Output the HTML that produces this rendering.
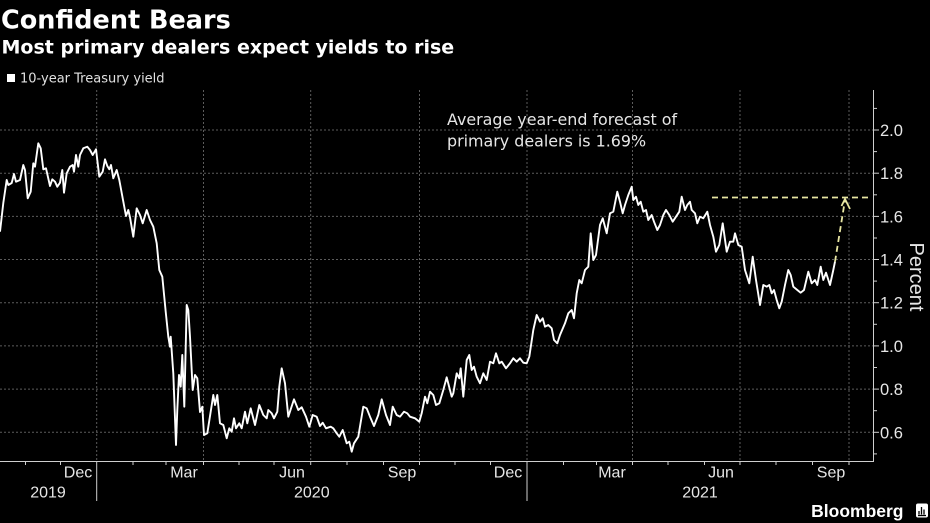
<!DOCTYPE html>
<html><head><meta charset="utf-8"><style>
html,body{margin:0;padding:0;background:#000;}
svg{display:block;}
</style></head><body>
<svg width="930" height="523" viewBox="0 0 930 523" xmlns="http://www.w3.org/2000/svg">
<rect width="930" height="523" fill="#000"/>
<text x="1" y="28.5" font-family="DejaVu Sans, sans-serif" font-weight="bold" font-size="25.5" fill="#fff">Confident Bears</text>
<text x="1.5" y="53.5" font-family="DejaVu Sans, sans-serif" font-weight="bold" font-size="19" fill="#fff">Most primary dealers expect yields to rise</text>
<rect x="7" y="74" width="8" height="8" fill="#fff"/>
<text x="20" y="82.7" font-family="DejaVu Sans, sans-serif" font-size="13" fill="#e0e0e0">10-year Treasury yield</text>
<g stroke="#5c5c5c" stroke-width="1" stroke-dasharray="2,2" fill="none">
<line x1="0" y1="130" x2="873" y2="130"/>
<line x1="0" y1="173.2" x2="873" y2="173.2"/>
<line x1="0" y1="216.4" x2="873" y2="216.4"/>
<line x1="0" y1="259.5" x2="873" y2="259.5"/>
<line x1="0" y1="302.7" x2="873" y2="302.7"/>
<line x1="0" y1="345.9" x2="873" y2="345.9"/>
<line x1="0" y1="389.1" x2="873" y2="389.1"/>
<line x1="0" y1="432.3" x2="873" y2="432.3"/>
<line x1="96.7" y1="90" x2="96.7" y2="461"/>
<line x1="203.5" y1="90" x2="203.5" y2="461"/>
<line x1="310.7" y1="90" x2="310.7" y2="461"/>
<line x1="419.5" y1="90" x2="419.5" y2="461"/>
<line x1="527" y1="90" x2="527" y2="461"/>
<line x1="632.5" y1="90" x2="632.5" y2="461"/>
<line x1="740" y1="90" x2="740" y2="461"/>
<line x1="849" y1="90" x2="849" y2="461"/>
</g>
<g stroke="#cfcfcf" stroke-width="1" fill="none">
<line x1="873.5" y1="90" x2="873.5" y2="461.5"/>
<line x1="0" y1="461.5" x2="874" y2="461.5"/>
<line x1="873.5" y1="130" x2="879" y2="130"/>
<line x1="873.5" y1="173.2" x2="879" y2="173.2"/>
<line x1="873.5" y1="216.4" x2="879" y2="216.4"/>
<line x1="873.5" y1="259.5" x2="879" y2="259.5"/>
<line x1="873.5" y1="302.7" x2="879" y2="302.7"/>
<line x1="873.5" y1="345.9" x2="879" y2="345.9"/>
<line x1="873.5" y1="389.1" x2="879" y2="389.1"/>
<line x1="873.5" y1="432.3" x2="879" y2="432.3"/>
<line x1="873.5" y1="108.4" x2="877" y2="108.4"/>
<line x1="873.5" y1="151.6" x2="877" y2="151.6"/>
<line x1="873.5" y1="194.8" x2="877" y2="194.8"/>
<line x1="873.5" y1="238" x2="877" y2="238"/>
<line x1="873.5" y1="281.1" x2="877" y2="281.1"/>
<line x1="873.5" y1="324.3" x2="877" y2="324.3"/>
<line x1="873.5" y1="367.5" x2="877" y2="367.5"/>
<line x1="873.5" y1="410.7" x2="877" y2="410.7"/>
<line x1="873.5" y1="453.9" x2="877" y2="453.9"/>
<line x1="25.5" y1="461.5" x2="25.5" y2="465"/>
<line x1="60.5" y1="461.5" x2="60.5" y2="465"/>
<line x1="96.7" y1="461.5" x2="96.7" y2="501"/>
<line x1="133" y1="461.5" x2="133" y2="465"/>
<line x1="166" y1="461.5" x2="166" y2="465"/>
<line x1="203.5" y1="461.5" x2="203.5" y2="465"/>
<line x1="239" y1="461.5" x2="239" y2="465"/>
<line x1="274" y1="461.5" x2="274" y2="465"/>
<line x1="310.7" y1="461.5" x2="310.7" y2="465"/>
<line x1="347" y1="461.5" x2="347" y2="465"/>
<line x1="383.5" y1="461.5" x2="383.5" y2="465"/>
<line x1="419.5" y1="461.5" x2="419.5" y2="465"/>
<line x1="455" y1="461.5" x2="455" y2="465"/>
<line x1="490.5" y1="461.5" x2="490.5" y2="465"/>
<line x1="527" y1="461.5" x2="527" y2="501"/>
<line x1="563.5" y1="461.5" x2="563.5" y2="465"/>
<line x1="596.5" y1="461.5" x2="596.5" y2="465"/>
<line x1="632.5" y1="461.5" x2="632.5" y2="465"/>
<line x1="668" y1="461.5" x2="668" y2="465"/>
<line x1="704.5" y1="461.5" x2="704.5" y2="465"/>
<line x1="740" y1="461.5" x2="740" y2="465"/>
<line x1="776" y1="461.5" x2="776" y2="465"/>
<line x1="812.5" y1="461.5" x2="812.5" y2="465"/>
<line x1="849" y1="461.5" x2="849" y2="465"/>
</g>
<g font-family="Liberation Sans, sans-serif" font-size="16.5" fill="#e6e6e6">
<text x="880" y="136">2.0</text>
<text x="880" y="179.2">1.8</text>
<text x="880" y="222.4">1.6</text>
<text x="880" y="265.5">1.4</text>
<text x="880" y="308.7">1.2</text>
<text x="880" y="351.9">1.0</text>
<text x="880" y="395.1">0.8</text>
<text x="880" y="438.3">0.6</text>
</g>
<text transform="translate(910,277) rotate(90)" text-anchor="middle" font-family="Liberation Sans, sans-serif" font-size="20" fill="#e6e6e6">Percent</text>
<g font-family="Liberation Sans, sans-serif" font-size="16" fill="#e6e6e6" text-anchor="middle">
<text x="78" y="477.5">Dec</text>
<text x="184" y="477.5">Mar</text>
<text x="292" y="477.5">Jun</text>
<text x="402" y="477.5">Sep</text>
<text x="508" y="477.5">Dec</text>
<text x="612" y="477.5">Mar</text>
<text x="721" y="477.5">Jun</text>
<text x="831" y="477.5">Sep</text>
<text x="48" y="497.5">2019</text>
<text x="311.8" y="497.5">2020</text>
<text x="700" y="497.5">2021</text>
</g>
<text x="447" y="125" font-family="DejaVu Sans, sans-serif" font-size="15.9" fill="#e6e6e6">Average year-end forecast of</text>
<text x="447" y="146.7" font-family="DejaVu Sans, sans-serif" font-size="15.9" fill="#e6e6e6">primary dealers is 1.69%</text>
<g stroke="#e8e6a2" stroke-width="1.8" fill="none" stroke-dasharray="6,4">
<line x1="712" y1="197.5" x2="872" y2="197.5"/>
<line x1="835" y1="261.7" x2="845" y2="200"/>
</g>
<polyline points="841.5,206 845,199 850,209" stroke="#e8e6a2" stroke-width="1.8" fill="none"/>
<polyline fill="none" stroke="#fff" stroke-width="1.9" stroke-linejoin="round" points="0,231.7 3.3,203 6.7,180 8.3,185 11.7,183 14,174 16,181.7 20,180 23.3,165 25,170 27.7,198.3 30.7,191.7 33.3,163.3 35,166.7 38.3,143.3 40.7,148.3 43.3,169.3 46,168.3 50,186 52.3,179.3 55,181.7 57.3,186.7 60,182.7 62.3,170 64,192.7 66.7,173.3 70,166.7 72.7,165 74,171.7 76,155 78.3,166.7 80,155 83.3,148.3 87.3,146.7 90,150 92.7,155 96,149.3 99.3,176.7 102.7,171.7 105,159.3 107.3,166 109.3,169.3 111,165 113.3,178.3 116.7,170 119.3,180 122.7,198.3 126,216 128.3,210 130,217.3 133.3,236.7 136.7,208.3 140,215 142.7,223.3 146.7,210 150,220 153.3,226.7 156.7,243.3 159.3,270 162.3,276.7 165.7,311.7 168.3,336.7 170,346.7 170.7,336.7 173.3,373.3 176,445 177.3,410 179,375 180.7,386.7 182.3,355 184.3,406.7 186.7,305 188.3,310 190,336.7 192.7,390 195,375 197.3,378.3 200,412 202.3,406.7 204,435 207.3,433.3 213.3,395 215,405 217.3,395 220,423.3 223.3,425 226.7,438.3 229.3,428.3 231.7,431.7 234,418.3 236,428.3 239.3,423.3 241.7,428.3 245,411.7 247.3,423.3 250.7,408.3 255,425 259.3,405 263.3,415 266.7,418.3 268.3,410 271.7,413.3 274,418.3 277.3,411.7 279.3,386.7 281.7,368.3 285,383.3 288.3,416.7 294,399.3 298.3,410 301.7,407.3 306,416.7 309.3,426.7 312.7,415 316.7,416.7 320,426 322.7,422.7 326,428.3 330.7,426.7 333.3,428.3 336.7,433.3 339.3,436.7 342.7,430 346.7,443.3 349.3,441.7 351.7,451.7 354,443.3 358.3,436.7 363.3,406.7 366.7,408.3 370,416.7 374,426 378.3,415 381.7,399.3 386,415 390,425 392.7,406.7 396.7,415 400,416.7 404,411.7 407.3,413.3 410,416.7 415,418.3 419.3,421.7 421.7,413.3 425,396.7 427.3,403.3 430,391.7 433.3,395 436,405 439.3,403.3 443.3,390 446.7,377.3 451.7,396.7 453.3,393.3 456.7,373.3 459.3,378.3 460.7,368.3 463.3,396.7 466.7,360 469.3,355 471.7,370 474,366.7 476.7,376.7 480,383.3 483.3,373.3 486.7,380 490,361.7 493.3,363.3 496,353.3 499.3,363.3 501.7,361.7 506,368.3 510,363.3 513.3,358.3 516.7,361.7 520,358.3 523.3,362.7 526.7,363.3 529.3,356.7 533.3,330 536.7,315 540,321.7 542.7,318.3 545,326.7 548.3,325 551.7,328.3 554,340 557.3,343.3 560,335 565,323.3 568.3,313.3 571.7,310 574,318.3 576.7,293.3 579.3,280 581.7,283.3 585,270 588.3,266.7 590.7,233.3 593.3,260 596,255 600,225 602.7,218.3 606.7,233.3 610,213.3 613.3,211.7 617.3,191.7 620,201.7 622.7,213.3 625,205 628.3,195 631.7,186.7 633.3,200 636,196.7 638.3,205 640.7,201.7 643.3,211.7 646,210 648.3,220 651.7,215 654,221.7 657.3,230 660,225 663.3,215 666,210 669.3,215 672.7,221.7 676,216.7 679.3,211.7 681.7,196.7 685,210 687.3,205 690,201.7 691.7,210 695,213.3 697.3,223.3 700,216.7 703.3,218.3 707.3,211.7 710,225 713.3,236.7 716,251.7 719.3,245 722.7,223.3 726.7,251.7 730,241.7 733.3,241.7 735,233.3 738.3,245 741.7,246.7 745,270 749.3,283.3 752.7,256.7 756,280 760,305 763.3,285 766.7,286.7 769.3,285 771.7,293.3 774,290 776.7,300 779.3,308.3 781.7,301.7 785,285 788.3,270 790.7,275 793.3,286.7 797.3,290 800.7,292.7 804,290 808.3,271.7 811.7,283.3 815,280 817.3,285 820.7,266.7 823.3,280 826,272.7 830,285 833.3,270 835,261.7"/>
<text x="903.5" y="517" text-anchor="end" font-family="Liberation Sans, sans-serif" font-weight="bold" font-size="17.5" fill="#fff">Bloomberg</text>
<rect x="916" y="503.5" width="12" height="14" rx="2" fill="#fff"/>
<g stroke="#000" stroke-width="1.3">
<line x1="919" y1="514.5" x2="919" y2="511"/>
<line x1="921.5" y1="514.5" x2="921.5" y2="507"/>
<line x1="924" y1="514.5" x2="924" y2="509.5"/>
<line x1="918" y1="515.5" x2="926" y2="515.5"/>
</g>
</svg>
</body></html>
